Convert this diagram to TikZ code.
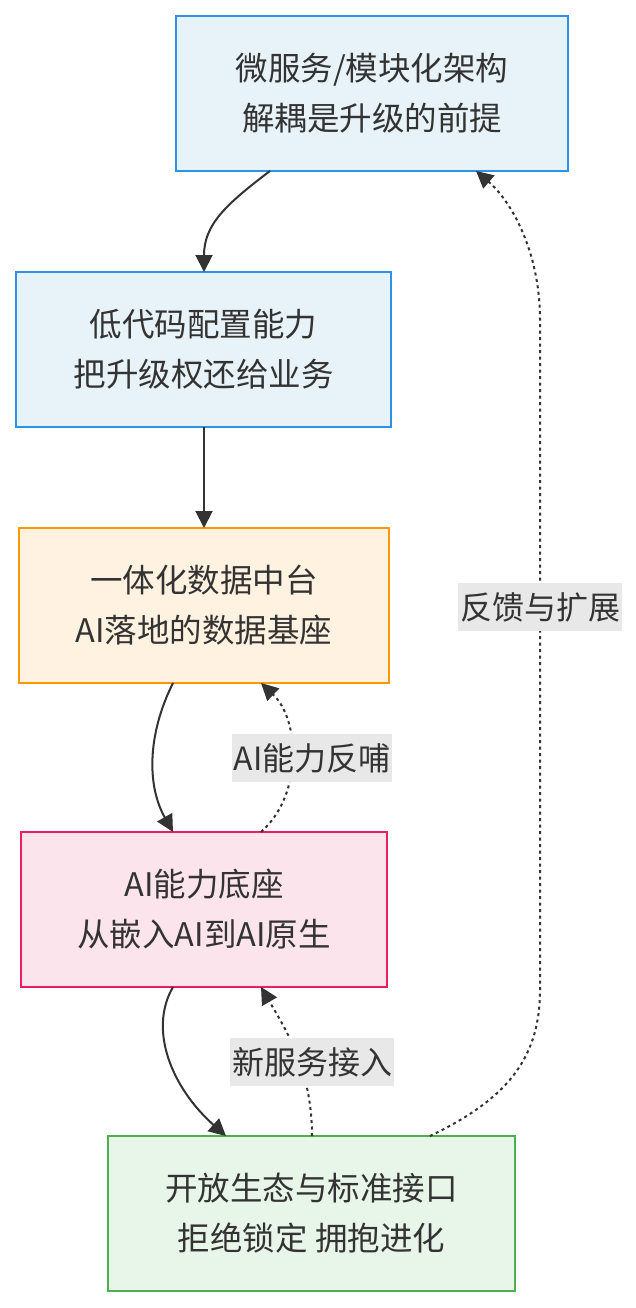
\documentclass[tikz,border=0pt]{standalone}
\usepackage{fontspec}
\setmainfont{Noto Sans CJK SC}
\usetikzlibrary{arrows.meta,calc}
\definecolor{ink}{HTML}{333333}
\definecolor{blueb}{HTML}{2B92E8}
\definecolor{bluef}{HTML}{E7F3F8}
\definecolor{orangeb}{HTML}{FF9800}
\definecolor{orangef}{HTML}{FFF2E0}
\definecolor{pinkb}{HTML}{E91E63}
\definecolor{pinkf}{HTML}{FCE4EC}
\definecolor{greenb}{HTML}{4CAF50}
\definecolor{greenf}{HTML}{E8F5E9}
\definecolor{lblbg}{HTML}{E8E8E8}
\begin{document}
\begin{tikzpicture}[x=1pt,y=-1pt,
  box/.style={draw, line width=2pt, minimum height=155pt, inner sep=0pt, outer sep=0pt,
    align=center, font=\fontsize{32.5}{50}\selectfont, text=ink},
  edge/.style={draw=ink, line width=2pt, -{Triangle[length=17pt,width=17pt]}},
  dashedge/.style={edge, dash pattern=on 3pt off 3.5pt},
  lbl/.style={fill=lblbg, text=ink, font=\fontsize{32}{36}\selectfont,
    inner xsep=2pt, inner ysep=0pt, minimum height=48pt}]
\useasboundingbox[fill=white] (0,0) rectangle (635,1308);

\node[box, draw=blueb, fill=bluef, minimum width=392pt] (n1) at (372,93.5)
  {微服务/模块化架构\\解耦是升级的前提};
\node[box, draw=blueb, fill=bluef, minimum width=375pt] (n2) at (203.5,349.5)
  {低代码配置能力\\把升级权还给业务};
\node[box, draw=orangeb, fill=orangef, minimum width=370pt] (n3) at (204,605.5)
  {一体化数据中台\\AI落地的数据基座};
\node[box, draw=pinkb, fill=pinkf, minimum width=366pt] (n4) at (204,909.5)
  {AI能力底座\\从嵌入AI到AI原生};
\node[box, draw=greenb, fill=greenf, minimum width=407pt] (n5) at (311.5,1213.5)
  {开放生态与标准接口\\拒绝锁定 拥抱进化};

% n1 -> n2
\draw[edge] ($(n1.south west)+(94,0)$) .. controls (225,205) and (204,225) .. ($(n2.north west)+(188,0)$);
% n2 -> n3
\draw[edge] ($(n2.south west)+(188,0)$) -- ($(n3.north west)+(185,0)$);
% n3 -> n4
\draw[edge] ($(n3.south west)+(154,0)$) .. controls (147,735) and (147,786) .. ($(n4.north west)+(152,0)$);
% n4 -> n3 (dashed)
\draw[dashedge] ($(n4.north west)+(240,0)$) .. controls (303,795) and (300,720) .. ($(n3.south west)+(242,0)$);
% n4 -> n5
\draw[edge] ($(n4.south west)+(152,0)$) .. controls (148,1030) and (172,1088) .. ($(n5.north west)+(118,0)$);
% n5 -> n4 (dashed)
\draw[dashedge] ($(n5.north west)+(204,0)$) .. controls (312,1070) and (286,1030) .. ($(n4.south west)+(240,0)$);
% n5 -> n1 (dashed)
\draw[dashedge] ($(n5.north west)+(322,0)$) .. controls (505,1100) and (540,1060) .. (540,990)
  -- (540,320) .. controls (540,250) and (510,200) .. ($(n1.south west)+(300,0)$);

\node[lbl] (l1) at (312,758) {AI能力反哺};
\node[lbl] (l2) at (312,1062) {新服务接入};
\node[lbl] (l3) at (540,607) {反馈与扩展};
\end{tikzpicture}
\end{document}
